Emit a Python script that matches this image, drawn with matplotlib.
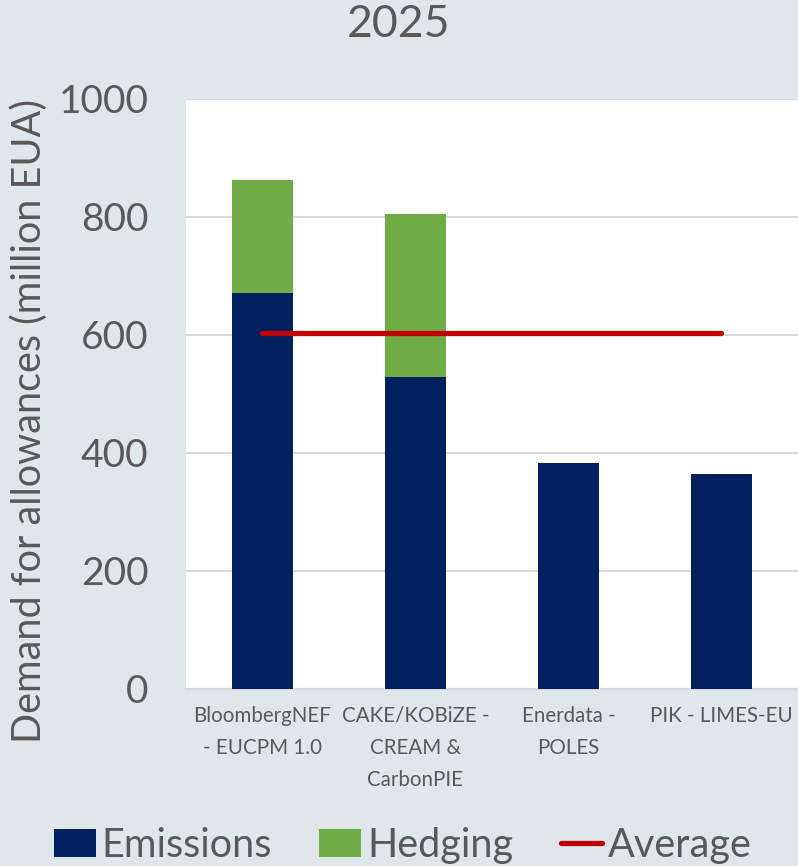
import matplotlib
matplotlib.use("Agg")
import matplotlib.pyplot as plt
from matplotlib.patches import Patch
from matplotlib.lines import Line2D

# Data (million EUA)
models = ["BloombergNEF\n- EUCPM 1.0", "CAKE/KOBiZE -\nCREAM &\nCarbonPIE",
          "Enerdata -\nPOLES", "PIK - LIMES-EU"]
emissions = [671, 528, 383, 364]
hedging = [191, 277, 0, 0]
average = 603
yticks = [0, 200, 400, 600, 800, 1000]

navy = "#002060"
green = "#70AD47"
red = "#C00000"
txt = "#595959"
bg = "#E0E7EB"

plt.rcParams["font.family"] = ["Lato", "DejaVu Sans"]

fig = plt.figure(figsize=(7.98, 8.66), dpi=100, facecolor=bg)
ax = fig.add_axes([0.233, 0.2044, 0.767, 0.6813])
ax.set_facecolor("white")

x = list(range(len(models)))
ax.bar(x, emissions, width=0.4, color=navy, zorder=3)
ax.bar(x, hedging, width=0.4, bottom=emissions, color=green, zorder=3)
ax.plot([x[0], x[-1]], [average, average], color=red, lw=3.8,
        solid_capstyle="round", zorder=4)

ax.set_xlim(-0.5, 3.5)
ax.set_ylim(0, 1000)
ax.set_yticks(yticks)
ax.set_yticklabels([str(v) for v in yticks], fontsize=28, color=txt)
ax.set_xticks(x)
ax.set_xticklabels(models, fontsize=14.8, color=txt, linespacing=1.75)
ax.tick_params(axis="both", length=0)
ax.tick_params(axis="y", pad=27)
ax.tick_params(axis="x", pad=12)
ax.grid(axis="y", color="#D9D9D9", lw=1.5, zorder=0)
for s in ["top", "right", "left"]:
    ax.spines[s].set_visible(False)
ax.spines["bottom"].set_color("#D9D9D9")
ax.spines["bottom"].set_linewidth(1.5)

fig.text(0.5, 0.972, "2025", ha="center", va="center", fontsize=32, color=txt)
fig.text(0.036, 0.514, "Demand for allowances (million EUA)", rotation=90,
         ha="center", va="center", fontsize=28.5, color=txt)

handles = [Patch(facecolor=navy), Patch(facecolor=green),
           Line2D([0], [0], color=red, lw=3.8, solid_capstyle="round")]
fig.legend(handles, ["Emissions", "Hedging", "Average"], loc="center",
           bbox_to_anchor=(0.505, 0.024), ncol=3, frameon=False, fontsize=28.5,
           labelcolor=txt, handlelength=1.05, handleheight=0.7,
           handletextpad=0.15, columnspacing=1.2)

fig.savefig("out.png", dpi=100, facecolor=bg)
